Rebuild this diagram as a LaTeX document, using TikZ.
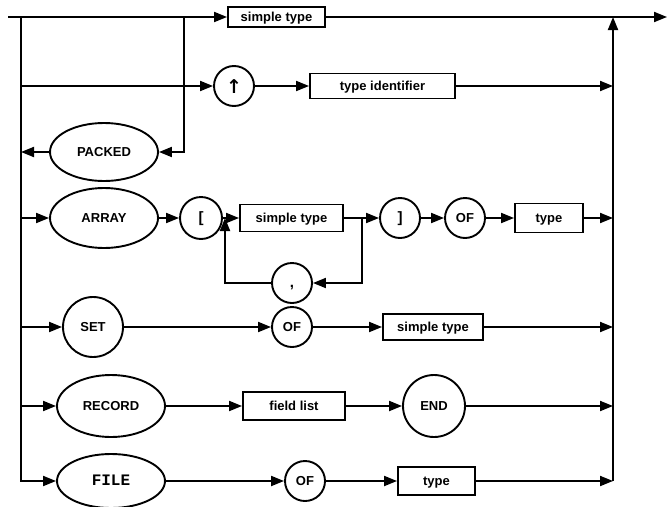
\documentclass[tikz,border=0pt]{standalone}
\usepackage{fontspec}
\setmainfont{Liberation Sans}
\newfontfamily\monob{Liberation Mono}
\newfontfamily\dejav{DejaVu Sans}
\usetikzlibrary{arrows.meta,shapes.geometric}
\begin{document}
\begin{tikzpicture}[x=1pt,y=-1pt,
  line width=1.9pt,
  every node/.style={font=\fontsize{13}{15}\selectfont\bfseries, inner sep=0pt, text height=9.5pt, text depth=1.5pt},
  arr/.style={-{Triangle[length=13pt,width=10pt]}},
  termbox/.style={draw, rectangle, line width=1.9pt},
  kwcirc/.style={draw, circle, line width=1.9pt},
  kwell/.style={draw, ellipse, line width=1.9pt, minimum width=108pt}]
\useasboundingbox (0,0) rectangle (668,506);
% top row
\coordinate (start) at (8,17);
\coordinate (jL) at (21,17);
\coordinate (jP) at (184,17);
\coordinate (jR) at (613,17);
\coordinate (end) at (667,17);
\node[termbox, minimum width=97pt, minimum height=20pt] (st1) at (276.5,17) {simple type};
\draw[arr] (start) -- (st1.west);
\draw[arr] (st1.east) -- (end);
% left bus
\node[kwell, minimum height=54pt] (file) at (111,481) {\monob\fontsize{16}{18}\selectfont\bfseries FILE};
\draw[arr] (jL) |- (file.west);
% row 2
\node[kwcirc, minimum size=40pt, text height=14pt, text depth=0pt] (up) at (234,86) {\dejav\fontsize{19}{21}\selectfont ↑};
\node[termbox, minimum width=145pt, minimum height=25pt] (tid) at (382.5,86) {type identifier};
\coordinate (b2) at (21,86);
\coordinate (r2) at (613,86);
\draw[arr] (b2) -- (up.west);
\draw[arr] (up.east) -- (tid.west);
\draw[arr] (tid.east) -- (r2);
% PACKED
\node[kwell, minimum height=58pt] (packed) at (104,152) {PACKED};
\coordinate (b3) at (21,152);
\draw[arr] (jP) |- (packed.east);
\draw[arr] (packed.west) -- (b3);
% ARRAY
\node[kwell, minimum height=60pt] (array) at (104,218) {ARRAY};
\node[kwcirc, minimum size=42pt] (lb) at (201,218) {\fontsize{15}{17}\selectfont[};
\node[termbox, minimum width=103pt, minimum height=27pt] (st2) at (291.5,218) {simple type};
\node[kwcirc, minimum size=40pt] (rb) at (400,218) {\fontsize{15}{17}\selectfont]};
\node[kwcirc, minimum size=40pt] (of1) at (465,218) {OF};
\node[termbox, minimum width=68pt, minimum height=29pt] (ty1) at (549,218) {type};
\node[kwcirc, minimum size=40pt] (comma) at (292,283) {\fontsize{15}{17}\selectfont,};
\coordinate (b4) at (21,218);
\coordinate (r4) at (613,218);
\coordinate (lp1) at (225,218);
\coordinate (lp2) at (362,218);
\draw[arr] (b4) -- (array.west);
\draw[arr] (array.east) -- (lb.west);
\draw[arr] (lb.east) -- (st2.west);
\draw[arr] (st2.east) -- (rb.west);
\draw[arr] (rb.east) -- (of1.west);
\draw[arr] (of1.east) -- (ty1.west);
\draw[arr] (ty1.east) -- (r4);
\draw[arr] (lp2) |- (comma.east);
\draw[arr] (comma.west) -| (lp1);
% SET
\node[kwcirc, minimum size=60pt] (set) at (93,327) {SET};
\node[kwcirc, minimum size=40pt] (of2) at (292,327) {OF};
\node[termbox, minimum width=100pt, minimum height=26pt] (st3) at (433,327) {simple type};
\coordinate (b5) at (21,327);
\coordinate (r5) at (613,327);
\draw[arr] (b5) -- (set.west);
\draw[arr] (set.east) -- (of2.west);
\draw[arr] (of2.east) -- (st3.west);
\draw[arr] (st3.east) -- (r5);
% RECORD
\node[kwell, minimum height=62pt] (record) at (111,406) {RECORD};
\node[termbox, minimum width=102pt, minimum height=28pt] (fl) at (294,406) {field list};
\node[kwcirc, minimum size=62pt] (endk) at (434,406) {END};
\coordinate (b6) at (21,406);
\coordinate (r6) at (613,406);
\draw[arr] (b6) -- (record.west);
\draw[arr] (record.east) -- (fl.west);
\draw[arr] (fl.east) -- (endk.west);
\draw[arr] (endk.east) -- (r6);
% FILE
\node[kwcirc, minimum size=40pt] (of3) at (305,481) {OF};
\node[termbox, minimum width=77pt, minimum height=28pt] (ty2) at (436.5,481) {type};
\coordinate (r7) at (613,481);
\draw[arr] (file.east) -- (of3.west);
\draw[arr] (of3.east) -- (ty2.west);
\draw[arr] (ty2.east) -- (r7);
% right bus
\draw[arr] (r7) -- (jR);
\end{tikzpicture}
\end{document}
